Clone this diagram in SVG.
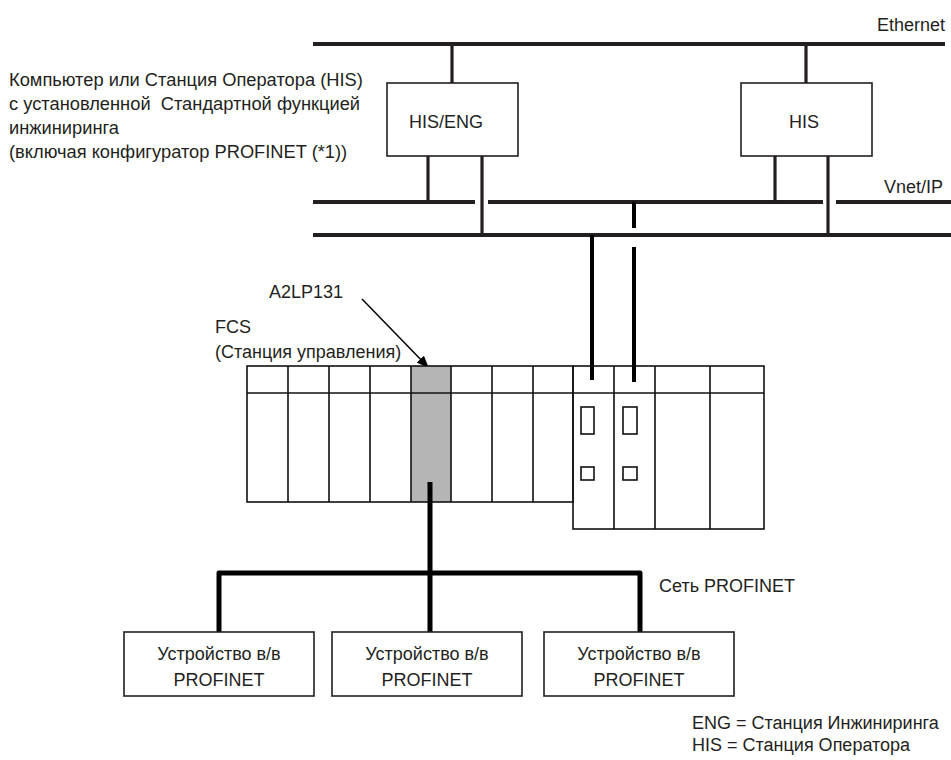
<svg xmlns="http://www.w3.org/2000/svg" width="951" height="760" viewBox="0 0 951 760">
<style>
text{font-family:"Liberation Sans",Arial,sans-serif;font-size:18px;fill:#231f20}
.desc{font-size:18.3px}
.box{fill:#fff;stroke:#231f20;stroke-width:1.6}
.rk{fill:none;stroke:#111;stroke-width:1.6}
.bus{stroke:#231f20;stroke-width:4;fill:none}
.drop{stroke:#231f20;stroke-width:3.2;fill:none}
.cab{stroke:#000;stroke-width:4;fill:none}
.pn{stroke:#000;stroke-width:5;fill:none;stroke-linejoin:round}
.mid{text-anchor:middle}
</style>
<defs>
<marker id="ah" markerWidth="12" markerHeight="10" refX="11" refY="5" orient="auto" markerUnits="userSpaceOnUse">
<path d="M0,0 L12,5 L0,10 Z" fill="#000"/>
</marker>
</defs>
<rect width="951" height="760" fill="#fff"/>

<g id="labels">
<text x="945" y="31" text-anchor="end">Ethernet</text>
<text x="943" y="193" text-anchor="end">Vnet/IP</text>
<text class="desc" x="9" y="86">Компьютер или Станция Оператора (HIS)</text>
<text class="desc" x="9" y="110" xml:space="preserve">с установленной  Стандартной функцией</text>
<text class="desc" x="9" y="134">инжиниринга</text>
<text class="desc" x="9" y="158">(включая конфигуратор PROFINET (*1))</text>
<text x="269" y="298">A2LP131</text>
<text x="215" y="333">FCS</text>
<text x="215" y="358">(Станция управления)</text>
<text x="659" y="592">Сеть PROFINET</text>
<text x="692" y="729">ENG = Станция Инжиниринга</text>
<text x="692" y="751">HIS = Станция Оператора</text>
</g>

<g id="connectors">
<line class="bus" x1="313" y1="44" x2="945" y2="44"/>
<line class="bus" x1="313" y1="202" x2="475" y2="202"/>
<line class="bus" x1="488" y1="202" x2="823" y2="202"/>
<line class="bus" x1="836" y1="202" x2="951" y2="202"/>
<line class="bus" x1="313" y1="235" x2="951" y2="235"/>
<line class="drop" x1="452" y1="44" x2="452" y2="83"/>
<line class="drop" x1="806" y1="44" x2="806" y2="83"/>
<line class="drop" x1="428" y1="156" x2="428" y2="202"/>
<line class="drop" x1="482" y1="156" x2="482" y2="235"/>
<line class="drop" x1="775" y1="156" x2="775" y2="202"/>
<line class="drop" x1="828" y1="156" x2="828" y2="235"/>
<line class="cab" x1="634" y1="202" x2="634" y2="228"/>
<line class="cab" x1="634" y1="247" x2="634" y2="382"/>
<line class="cab" x1="592" y1="235" x2="592" y2="380"/>
<line x1="362" y1="299" x2="428" y2="367" stroke="#000" stroke-width="1.5" marker-end="url(#ah)"/>
<path class="pn" d="M219,632 V573 H640 V632"/>
<line class="pn" x1="430" y1="482" x2="430" y2="632"/>
</g>

<g id="his-eng">
<rect class="box" x="387" y="83" width="131" height="73"/>
<text x="446" y="128" class="mid">HIS/ENG</text>
</g>
<g id="his">
<rect class="box" x="741" y="83" width="131" height="73"/>
<text x="804" y="128" class="mid">HIS</text>
</g>

<g id="fcs">
<rect x="411" y="366" width="40" height="136" fill="#b5b5b5"/>
<rect class="rk" x="247" y="366" width="326" height="136"/>
<rect class="rk" x="573" y="366" width="191" height="163" fill="#fff"/>
<line class="rk" x1="247" y1="393" x2="764" y2="393"/>
<path class="rk" d="M288,366V502M329,366V502M370,366V502M411,366V502M451,366V502M492,366V502M533,366V502M614,366V529M655,366V529M710,366V529"/>
<rect class="rk" x="581" y="407" width="13" height="27"/>
<rect class="rk" x="581" y="467" width="13" height="13"/>
<rect class="rk" x="623" y="407" width="14" height="27"/>
<rect class="rk" x="623" y="467" width="14" height="13"/>
<line class="cab" x1="592" y1="366" x2="592" y2="380"/>
<line class="cab" x1="634" y1="366" x2="634" y2="382"/>
<line class="pn" x1="430" y1="482" x2="430" y2="502"/>
</g>

<g id="io1">
<rect class="box" x="124" y="632" width="190" height="64"/>
<text x="219" y="660" class="mid">Устройство в/в</text>
<text x="219" y="686" class="mid">PROFINET</text>
</g>
<g id="io2">
<rect class="box" x="332" y="632" width="190" height="64"/>
<text x="427" y="660" class="mid">Устройство в/в</text>
<text x="427" y="686" class="mid">PROFINET</text>
</g>
<g id="io3">
<rect class="box" x="544" y="632" width="190" height="64"/>
<text x="639" y="660" class="mid">Устройство в/в</text>
<text x="639" y="686" class="mid">PROFINET</text>
</g>
</svg>
